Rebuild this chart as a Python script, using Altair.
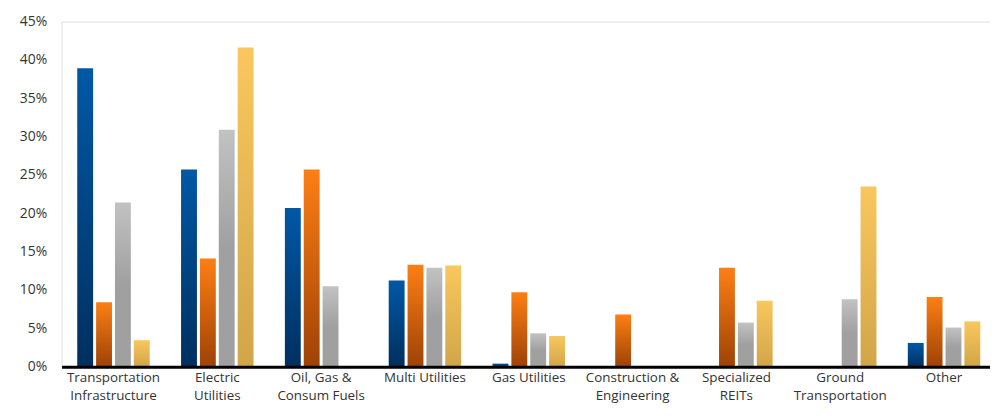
import altair as alt
import pandas as pd

categories = [
    "Transportation\nInfrastructure",
    "Electric\nUtilities",
    "Oil, Gas &\nConsum Fuels",
    "Multi Utilities",
    "Gas Utilities",
    "Construction &\nEngineering",
    "Specialized\nREITs",
    "Ground\nTransportation",
    "Other",
]
series = ["S1", "S2", "S3", "S4"]
s1_blue = [38.9, 25.7, 20.7, 11.25, 0.4, 0.0, 0.0, 0.0, 3.1]
s2_orange = [8.4, 14.1, 25.7, 13.3, 9.7, 6.8, 12.9, 0.0, 9.1]
s3_gray = [21.4, 30.9, 10.5, 12.9, 4.35, 0.0, 5.75, 8.8, 5.1]
s4_yellow = [3.45, 41.6, 0.0, 13.2, 4.0, 0.0, 8.6, 23.5, 5.9]
y_ticks = [0, 0.05, 0.10, 0.15, 0.20, 0.25, 0.30, 0.35, 0.40, 0.45]

rows = []
for sname, vals in zip(series, [s1_blue, s2_orange, s3_gray, s4_yellow]):
    for c, v in zip(categories, vals):
        rows.append({"category": c, "series": sname, "value": v / 100.0})
df = pd.DataFrame(rows)

def grad(stops):
    return alt.Gradient(
        gradient="linear", x1=0, y1=0, x2=0, y2=1,
        stops=[alt.GradientStop(offset=o, color=c) for o, c in stops],
    )

fills = {
    "S1": grad([(0, "#0058a6"), (1, "#002f5f")]),
    "S2": grad([(0, "#fd7f14"), (1, "#9e4206")]),
    "S3": grad([(0, "#c2c2c2"), (0.5, "#a0a0a0"), (1, "#a0a0a0")]),
    "S4": grad([(0, "#f9c75d"), (1, "#d1a549")]),
}

FONT = "Open Sans"

x_enc = alt.X(
    "category:N", sort=categories, title=None,
    scale=alt.Scale(range=[0, 942], paddingInner=0.302, paddingOuter=0.151),
    axis=alt.Axis(
        labelAngle=0, ticks=False, domainColor="#000000", domainWidth=3,
        labelFont=FONT, labelFontSize=13.5, labelColor="#333333",
        labelPadding=4, labelLineHeight=18.5, zindex=1,
        labelExpr="split(datum.value, '\\n')",
    ),
)
xo_enc = alt.XOffset("series:N", scale=alt.Scale(domain=series, paddingInner=0.158, paddingOuter=0))
y_enc = alt.Y(
    "value:Q", title=None,
    scale=alt.Scale(domain=[0, 0.45], nice=False),
    axis=alt.Axis(
        values=y_ticks, format=".0%", domain=False, ticks=False, grid=False,
        labelFont=FONT, labelFontSize=14, labelColor="#333333", labelPadding=15,
    ),
)

layers = []
for s in series:
    layers.append(
        alt.Chart(df).transform_filter(alt.datum.series == s)
        .mark_bar(fill=fills[s], strokeWidth=0)
        .encode(x=x_enc, xOffset=xo_enc, y=y_enc)
    )

chart = alt.layer(*layers).properties(
    width=936, height=348,
    autosize=alt.AutoSizeParams(type="none"),
    padding={"left": 54, "top": 12, "right": 0, "bottom": 36},
).configure_view(stroke=None).configure(background="#ffffff")

chart.save("out.html", embed_options={"renderer": "svg", "actions": False})
